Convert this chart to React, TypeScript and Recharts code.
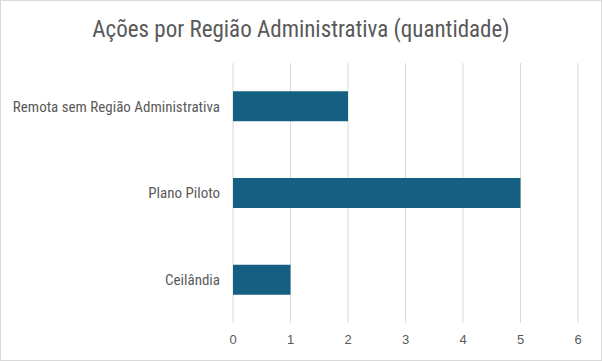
import React from 'react';
import { BarChart, Bar, XAxis, YAxis, CartesianGrid } from 'recharts';

const categories = ['Remota sem Região Administrativa', 'Plano Piloto', 'Ceilândia'];
const quantidades = [2, 5, 1];
const xTicks = [0, 1, 2, 3, 4, 5, 6];

const data = categories.map((name, i) => ({ name, value: quantidades[i] }));

const FONT = "'Liberation Sans Narrow', 'Roboto Condensed', 'Liberation Sans', sans-serif";

export default function App() {
  return (
    <div style={styles.frame}>
      <div style={styles.title}>Ações por Região Administrativa (quantidade)</div>
      <BarChart
        width={602}
        height={361}
        data={data}
        layout="vertical"
        margin={{ top: 62, right: 25, bottom: 0, left: 0 }}
        barCategoryGap="32.7%"
      >
        <CartesianGrid horizontal={false} stroke="#d9d9d9" strokeDasharray="" />
        <XAxis
          type="number"
          domain={[0, 6]}
          ticks={xTicks}
          tickLine={false}
          axisLine={false}
          tickMargin={6}
          height={39}
          tick={{ fill: '#595959', fontSize: 13, fontFamily: "'Liberation Sans', Arial, sans-serif" }}
        />
        <YAxis
          type="category"
          dataKey="name"
          width={232}
          tickLine={false}
          axisLine={false}
          tickMargin={7}
          tick={{ fill: '#595959', fontSize: 15, fontFamily: FONT }}
        />
        <Bar dataKey="value" fill="#156082" isAnimationActive={false} />
      </BarChart>
    </div>
  );
}

const styles: Record<string, React.CSSProperties> = {
  frame: {
    position: 'absolute',
    left: 0,
    top: 0,
    width: 602,
    height: 361,
    boxSizing: 'border-box',
    border: '1px solid #d9d9d9',
    background: 'white',
    overflow: 'hidden',
  },
  title: {
    position: 'absolute',
    left: 0,
    top: 13,
    width: 600,
    textAlign: 'center',
    fontFamily: FONT,
    fontSize: 23,
    color: '#595959',
    lineHeight: '32px',
  },
};
